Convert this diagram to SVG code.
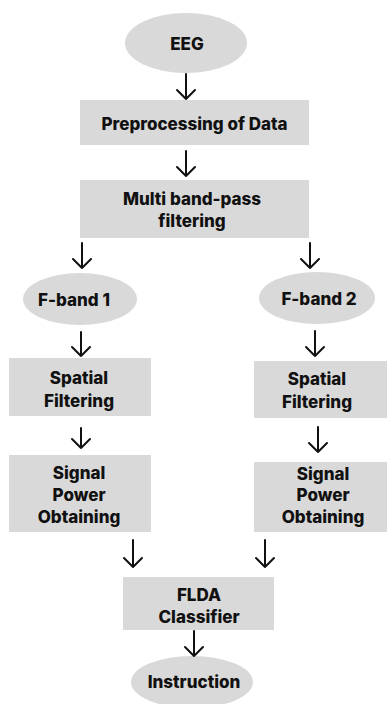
<svg xmlns="http://www.w3.org/2000/svg" width="387" height="704" viewBox="0 0 387 704">
<defs>
<style>
.n{fill:#d9d9d9;stroke:none}
.t{font-family:Inter,"Liberation Sans",Arial,sans-serif;font-weight:800;font-size:17px;fill:#111;text-anchor:middle;dominant-baseline:central}
.c path{fill:none;stroke:#111;stroke-width:2;stroke-linecap:round;stroke-linejoin:round}
</style>
</defs>
<rect width="387" height="704" fill="#fff"/>
<g id="eeg"><ellipse class="n" cx="186" cy="43" rx="61" ry="30"/><text class="t" x="187" y="44">EEG</text></g>
<g id="preprocessing"><rect class="n" x="80" y="100" width="229" height="45"/><text class="t" x="194.5" y="124">Preprocessing of Data</text></g>
<g id="multiband"><rect class="n" x="80" y="180" width="229" height="58"/><text class="t" x="192" y="199">Multi band-pass</text><text class="t" x="192" y="221">filtering</text></g>
<g id="fband1"><ellipse class="n" cx="80" cy="299" rx="57" ry="26"/><text class="t" x="74" y="300">F-band 1</text></g>
<g id="fband2"><ellipse class="n" cx="317" cy="298" rx="58" ry="26"/><text class="t" x="319" y="299">F-band 2</text></g>
<g id="spatial1"><rect class="n" x="9" y="358" width="142" height="58"/><text class="t" x="79" y="378">Spatial</text><text class="t" x="79" y="401">Filtering</text></g>
<g id="spatial2"><rect class="n" x="254" y="361" width="133" height="57"/><text class="t" x="317" y="379">Spatial</text><text class="t" x="317" y="402">Filtering</text></g>
<g id="signal1"><rect class="n" x="9" y="455" width="142" height="77"/><text class="t" x="79" y="473">Signal</text><text class="t" x="79" y="495">Power</text><text class="t" x="79" y="517">Obtaining</text></g>
<g id="signal2"><rect class="n" x="254" y="462" width="133" height="70"/><text class="t" x="323" y="474">Signal</text><text class="t" x="323" y="495">Power</text><text class="t" x="323" y="517">Obtaining</text></g>
<g id="flda"><rect class="n" x="123" y="577" width="151" height="53"/><text class="t" x="199" y="595">FLDA</text><text class="t" x="199" y="617">Classifier</text></g>
<g id="instruction"><ellipse class="n" cx="192" cy="682" rx="61" ry="26"/><text class="t" x="194" y="682">Instruction</text></g>
<g id="connectors" class="c">
<path d="M186 74V99M177 90L186 99L195 90"/>
<path d="M186 151V176M177 167L186 176L195 167"/>
<path d="M82 243V268M73 259L82 268L91 259"/>
<path d="M310 243V268M301 259L310 268L319 259"/>
<path d="M81 332V356M72 347L81 356L90 347"/>
<path d="M315 331V356M306 347L315 356L324 347"/>
<path d="M81 428V448M72 439L81 448L90 439"/>
<path d="M318 427V452M309 443L318 452L327 443"/>
<path d="M133 540V567M124 558L133 567L142 558"/>
<path d="M265 540V567M256 558L265 567L274 558"/>
<path d="M194 631V656M185 647L194 656L203 647"/>
</g>
</svg>
